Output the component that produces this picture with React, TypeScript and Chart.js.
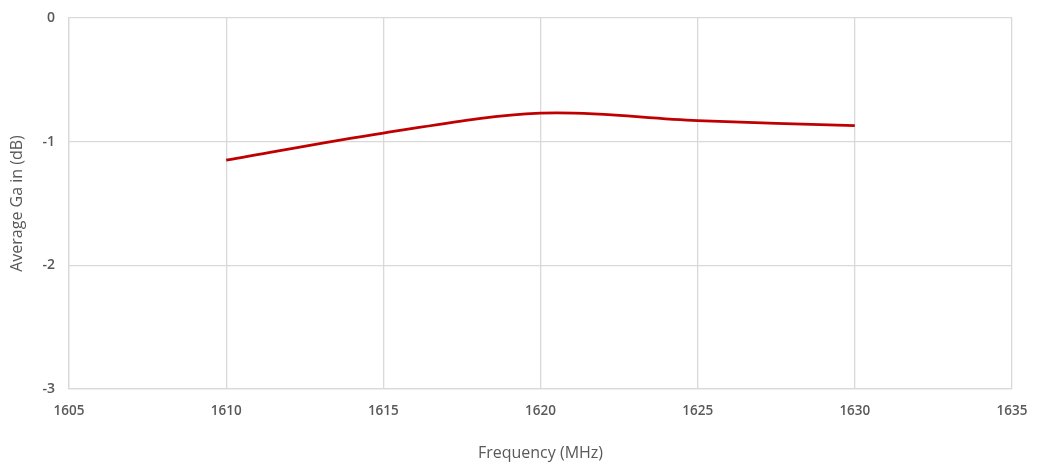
import React, { useEffect, useRef } from "react";
import { Chart, registerables } from "chart.js";

Chart.register(...registerables);

const frequencies = [1610, 1615, 1620, 1625, 1630];
const gains = [-1.15, -0.93, -0.77, -0.83, -0.87];
const xTitle = "Frequency (MHz)";
const yTitle = "Average Ga in (dB)";

export default function App() {
  const ref = useRef<HTMLCanvasElement | null>(null);
  useEffect(() => {
    document.body.style.margin = "0";
    const ctx = ref.current!;
    const chart = new Chart(ctx, {
      type: "line",
      data: {
        datasets: [
          {
            data: frequencies.map((f, i) => ({ x: f, y: gains[i] })),
            borderColor: "#c00000",
            borderWidth: 2.8,
            pointRadius: 0,
            tension: 0.35,
            fill: false,
          },
        ],
      },
      options: {
        animation: false,
        responsive: false,
        maintainAspectRatio: false,
        layout: { padding: { top: 18, right: 28, left: 0, bottom: 0 } },
        plugins: { legend: { display: false }, tooltip: { enabled: false } },
        scales: {
          x: {
            type: "linear",
            min: 1605,
            max: 1635,
            ticks: {
              stepSize: 5,
              color: "#595959",
              font: { family: "Open Sans", size: 13.5, weight: 600 },
              padding: 14,
              callback: (v: any) => String(v),
            },
            grid: { color: "#d9d9d9", drawTicks: false, lineWidth: 1.3 },
            border: { color: "#d9d9d9", width: 1.3 },
            title: {
              display: true,
              text: xTitle,
              color: "#595959",
              font: { family: "Open Sans", size: 16 },
              padding: { top: 10 },
            },
            afterFit: (s: any) => {
              s.height = 78;
              s.paddingLeft = 0;
              s.paddingRight = 0;
            },
          },
          y: {
            min: -3,
            max: 0,
            ticks: {
              stepSize: 1,
              color: "#595959",
              font: { family: "Open Sans", size: 14, weight: 600 },
              padding: 14,
              callback: (v: any) => String(v),
            },
            grid: { color: "#d9d9d9", drawTicks: false, lineWidth: 1.3 },
            border: { color: "#d9d9d9", width: 1.3 },
            title: {
              display: true,
              text: yTitle,
              color: "#595959",
              font: { family: "Open Sans", size: 16 },
              padding: { top: 8, bottom: 6 },
            },
            afterFit: (s: any) => {
              s.width = 69;
              s.paddingTop = 0;
              s.paddingBottom = 0;
            },
          },
        },
      },
    });
    return () => chart.destroy();
  }, []);
  return (
    <div style={{ width: 1040, height: 467 }}>
      <canvas ref={ref} width={1040} height={467} style={{ display: "block" }} />
    </div>
  );
}
